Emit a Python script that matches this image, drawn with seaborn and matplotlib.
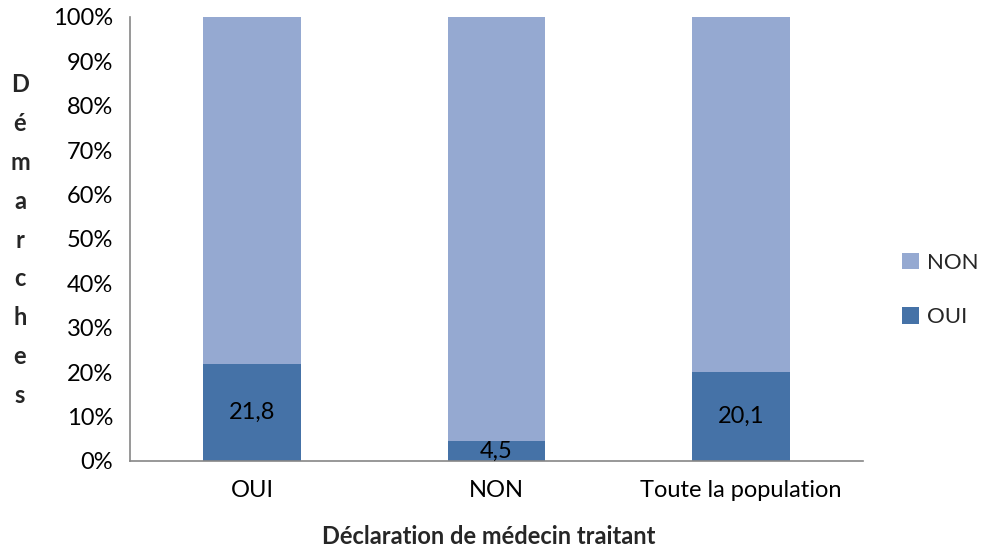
import numpy as np
import pandas as pd
import matplotlib
matplotlib.use("Agg")
import matplotlib.pyplot as plt
import seaborn as sns
from matplotlib.patches import Patch

categories = ["OUI", "NON", "Toute la population"]
oui_values = [21.8, 4.5, 20.1]
non_values = [100 - v for v in oui_values]
series_labels = ["NON", "OUI"]

df = pd.DataFrame({"cat": categories, "oui": oui_values, "non": non_values})
df["total"] = df["oui"] + df["non"]

sns.set_style("white")
plt.rcParams["font.family"] = ["Lato", "DejaVu Sans"]

dark = "#4572A7"
light = "#95A9D1"
grey = "#868686"
fs = 17

fig = plt.figure(figsize=(9.83, 5.53), dpi=100)
ax = fig.add_axes([0.1322, 0.1664, 0.878 - 0.1322, 0.9693 - 0.1664])

# stacked bars: full height (NON on top) then OUI over it
sns.barplot(data=df, x="cat", y="total", color=light, width=0.4, ax=ax,
            saturation=1, edgecolor="none")
sns.barplot(data=df, x="cat", y="oui", color=dark, width=0.4, ax=ax,
            saturation=1, edgecolor="none")

oui_bars = ax.containers[1]
ax.bar_label(oui_bars, labels=[f"{v:.1f}".replace(".", ",") for v in oui_values],
             label_type="center", fontsize=fs, color="black")

ax.set_xlim(-0.5, len(categories) - 0.5)
ax.set_ylim(0, 100)
ax.set_yticks(np.arange(0, 101, 10))
ax.set_yticklabels([f"{t}%" for t in range(0, 101, 10)], fontsize=fs)
ax.set_xticks(range(len(categories)))
ax.set_xticklabels(categories, fontsize=fs)
ax.set_xticks(np.arange(-0.5, len(categories), 1), minor=True)
ax.tick_params(axis="x", which="major", length=0, pad=14)
ax.tick_params(axis="x", which="minor", length=6, color=grey, width=1.2, direction="out")
ax.tick_params(axis="y", length=6, color=grey, width=1.2, direction="out", pad=6)
ax.tick_params(axis="y", colors=grey, labelcolor="black")
ax.tick_params(axis="x", which="major", labelcolor="black")

for s in ["top", "right"]:
    ax.spines[s].set_visible(False)
for s in ["left", "bottom"]:
    ax.spines[s].set_color(grey)
    ax.spines[s].set_linewidth(1.2)

ax.set_xlabel("")
ax.set_ylabel("")

fig.text(0.4975, 1 - 537 / 553, "Déclaration de médecin traitant", ha="center",
         va="center", fontsize=fs, fontweight="bold")
fig.text(20 / 983, 1 - 240 / 553, "\n".join("Démarches"), ha="center", va="center",
         fontsize=fs, fontweight="bold", linespacing=1.84)

handles = [Patch(facecolor=light, edgecolor="none"), Patch(facecolor=dark, edgecolor="none")]
fig.legend(handles, series_labels, loc="center left", bbox_to_anchor=(0.913, 1 - 290 / 553),
           frameon=False, fontsize=16, handlelength=0.75, handleheight=0.75,
           handletextpad=0.4, labelspacing=1.55, borderaxespad=0, borderpad=0.2)

fig.savefig("out.png", dpi=100)
